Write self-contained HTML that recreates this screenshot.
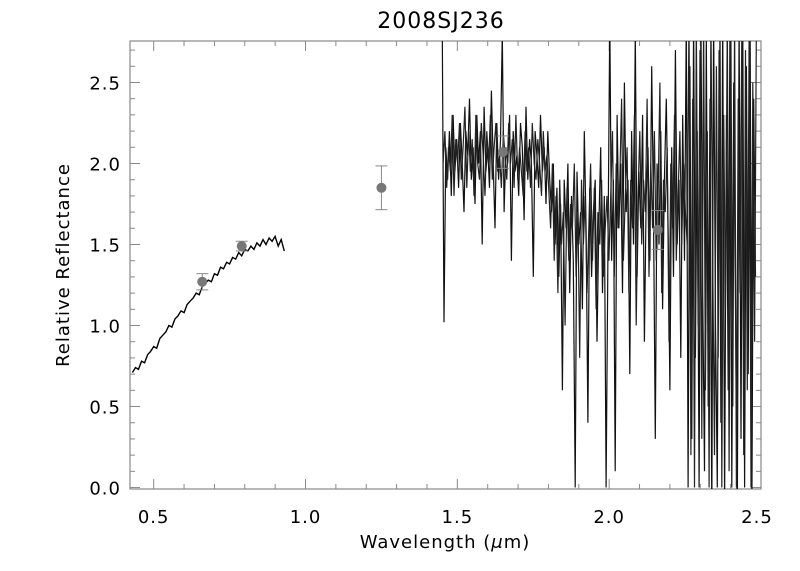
<!DOCTYPE html>
<html><head><meta charset="utf-8"><style>
body{margin:0;background:#fff}
svg{display:block;font-family:"DejaVu Sans","Liberation Sans",sans-serif}
</style></head><body>
<svg id="chart" width="800" height="571" viewBox="0 0 800 571" xmlns="http://www.w3.org/2000/svg">
<defs><clipPath id="plotclip"><rect x="130" y="41" width="631" height="448"/></clipPath></defs>
<rect width="800" height="571" fill="#fff"/>
<text x="441" y="28" font-size="22" text-anchor="middle" fill="#000" letter-spacing="1">2008SJ236</text>
<text transform="translate(69,265) rotate(-90)" font-size="18" text-anchor="middle" letter-spacing="1">Relative Reflectance</text>
<text x="445" y="548" font-size="18" text-anchor="middle" letter-spacing="1">Wavelength (<tspan font-style="italic">μ</tspan>m)</text>
<g id="axes"></g>
<g id="series" clip-path="url(#plotclip)"></g>
<g id="photometry"></g>
</svg>
<script>
const xTicks=[0.5,1.0,1.5,2.0,2.5];
const xTickLabels=["0.5","1.0","1.5","2.0","2.5"];
const yTicks=[0.0,0.5,1.0,1.5,2.0,2.5];
const yTickLabels=["0.0","0.5","1.0","1.5","2.0","2.5"];
const visStart=0.43, visStep=0.01;
const visRefl=[0.71,0.74,0.73,0.78,0.77,0.82,0.84,0.87,0.86,0.92,0.94,0.96,1.00,0.99,1.04,1.06,1.09,1.08,1.13,1.15,1.17,1.20,1.19,1.24,1.26,1.28,1.27,1.32,1.31,1.36,1.35,1.39,1.38,1.42,1.41,1.45,1.43,1.47,1.46,1.49,1.47,1.51,1.49,1.53,1.50,1.54,1.52,1.55,1.49,1.53,1.46];
const nirStart=1.45, nirStep=0.006;
const nirRefl=[2.9,1.02,2.1,1.9,2.2,1.8,2.3,1.95,2.15,1.85,2.25,2.0,1.7,2.2,2.05,2.4,1.9,2.1,1.75,2.3,2.0,2.2,1.5,2.35,1.95,2.1,1.85,2.45,2.0,1.6,2.25,1.9,2.15,2.8,1.7,2.1,2.0,2.3,1.4,2.2,1.95,2.05,1.8,2.25,2.1,1.65,2.35,1.9,2.15,2.0,1.3,2.2,2.05,1.85,2.3,1.95,2.1,1.75,2.2,
1.9,1.7,2.0,1.5,1.85,1.3,1.75,0.6,1.9,1.6,2.0,1.2,1.8,1.4,0.0,1.95,1.5,1.7,1.1,2.2,1.6,0.4,1.85,1.3,1.7,1.9,0.9,1.6,2.1,1.2,1.8,0.0,1.5,
2.9,1.4,1.9,0.1,2.3,1.6,2.0,1.2,2.5,1.7,1.9,0.7,2.2,1.5,2.8,1.3,1.95,1.6,2.3,0.9,1.8,2.1,1.4,2.6,1.7,0.3,2.0,1.5,2.2,1.1,1.9,2.4,1.6,0.6,2.1,1.3,2.7,1.5,1.9,0.8,2.3,1.4,
2.9,0.0,2.6,0.3,2.9,0.8,2.2,0.0,2.9,1.2,0.1,2.8,0.5,2.4,-0.2,2.9,1.0,0.0,2.7,0.4,2.9,-0.1,2.3,0.6,2.9,0.0,2.5,1.1,-0.2,2.9,0.3,2.8,0.0,2.6,0.7,2.9,-0.1,2.4,1.3];
const nirRefl2=[2.0,2.2,1.85,2.1,1.95,2.3,1.8,2.15,2.0,2.25,1.9,2.1,2.35,1.85,2.2,1.95,2.15,1.8,2.3,2.0,1.9,2.25,2.05,1.8,2.2,2.0,2.3,1.9,2.1,2.25,1.95,2.05,1.85,2.2,2.05,1.9,2.25,2.0,2.15,1.85,2.3,1.9,2.1,1.95,1.8,2.2,1.95,2.1,1.85,2.25,2.0,1.9,2.15,2.0,1.8,2.2,1.95,2.05,1.85,
1.6,2.0,1.4,1.8,1.2,1.9,1.5,1.7,1.0,1.85,1.4,1.75,1.6,2.0,1.3,1.7,0.8,1.9,1.5,1.8,1.2,1.6,2.0,1.4,1.85,1.1,1.7,1.5,1.9,1.3,1.6,1.8,1.4,
1.8,2.2,1.3,2.0,1.6,1.9,2.4,1.4,1.8,2.1,1.2,1.9,1.6,2.3,1.0,1.8,2.2,1.5,1.9,1.7,2.4,1.3,2.0,1.6,2.2,1.4,1.8,2.5,1.2,1.9,1.7,2.1,0.9,2.0,1.6,2.3,1.4,1.8,2.2,1.5,2.0,1.7,
1.5,2.9,0.2,2.4,0.0,2.9,1.0,2.7,0.3,2.9,0.6,2.2,0.0,2.9,1.4,0.2,2.6,0.8,2.9,0.0,2.3,1.1,2.9,0.1,2.8,0.5,2.9,0.0,2.4,1.2,2.9,0.2,2.7,0.6,2.9,0.0,2.5,0.9,2.9];
const photWave=[0.66,0.79,1.25,1.65,2.16];
const photRefl=[1.27,1.49,1.85,2.07,1.59];
const photErr=[0.05,0.03,0.135,0.1,0.12];

const X0=0.422,X1=2.5,PL=130,PR=761,Y0=-0.009,Y1=2.756,PB=489,PT=41;
const sx=v=>PL+(v-X0)/(X1-X0)*(PR-PL);
const sy=v=>PB-(v-Y0)/(Y1-Y0)*(PB-PT);
const NS="http://www.w3.org/2000/svg";
function mk(tag,parent,attrs){const e=document.createElementNS(NS,tag);for(const k in attrs)e.setAttribute(k,attrs[k]);parent.appendChild(e);return e;}
const axes=document.getElementById('axes');
const frame=mk('rect',axes,{x:PL,y:PT,width:PR-PL,height:PB-PT,fill:'none',stroke:'#888','stroke-width':1.2});


for(let i=5;i<=24;i++){const v=i/10;if(v<X0||v>X1)continue;const x=sx(v);const major=(i%5===0);const L=major?10:5;
 const t1=mk('line',axes,{x1:x,x2:x,y1:PB,y2:PB-L,stroke:'#888'});
 
 
 mk('line',axes,{x1:x,x2:x,y1:PT,y2:PT+L,stroke:'#888'});}
for(let i=0;i<=27;i++){const v=i/10;const y=sy(v);const major=(i%5===0);const L=major?10:5;
 const t=mk('line',axes,{x1:PL,x2:PL+L,y1:y,y2:y,stroke:'#888'});
 
 
 mk('line',axes,{x1:PR,x2:PR-L,y1:y,y2:y,stroke:'#888'});}
xTicks.forEach((v,i)=>{let x=sx(v);if(v>=2.5)x-=4;const t=mk('text',axes,{x:x,y:523,'font-size':18,'text-anchor':'middle','letter-spacing':1});t.textContent=xTickLabels[i];
 
 });
yTicks.forEach((v,i)=>{const t=mk('text',axes,{x:121,y:sy(v)+7,'font-size':18,'text-anchor':'end','letter-spacing':1});t.textContent=yTickLabels[i];
 
 });
const series=document.getElementById('series');
const vp=visRefl.map((r,i)=>sx(visStart+i*visStep).toFixed(1)+','+sy(r).toFixed(1)).join(' ');
const vl=mk('polyline',series,{points:vp,fill:'none',stroke:'#000','stroke-width':1.4});


const np=nirRefl.map((r,i)=>sx(nirStart+i*nirStep).toFixed(1)+','+sy(r).toFixed(1)).join(' ');
const nl=mk('polyline',series,{points:np,fill:'none',stroke:'#111','stroke-width':1.2});


const np2=nirRefl2.map((r,i)=>sx(nirStart+(i+0.5)*nirStep).toFixed(1)+','+sy(r).toFixed(1)).join(' ');
const nl2=mk('polyline',series,{points:np2,fill:'none',stroke:'#222','stroke-width':1.2});


const ph=document.getElementById('photometry');
photWave.forEach((w,i)=>{const x=sx(w),y=sy(photRefl[i]),yt=sy(photRefl[i]+photErr[i]),yb=sy(photRefl[i]-photErr[i]);
 const g=mk('g',ph,{});
 
 
 mk('line',g,{x1:x,x2:x,y1:yt,y2:yb,stroke:'#888'});
 mk('line',g,{x1:x-6,x2:x+6,y1:yt,y2:yt,stroke:'#888'});
 mk('line',g,{x1:x-6,x2:x+6,y1:yb,y2:yb,stroke:'#888'});
 mk('circle',g,{cx:x,cy:y,r:5,fill:'#777'});});
</script>
</body></html>
